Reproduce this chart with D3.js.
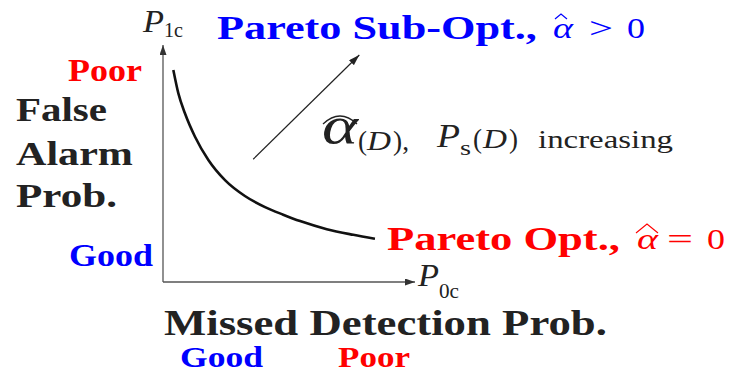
<!DOCTYPE html>
<html><head><meta charset="utf-8">
<script src="https://cdn.jsdelivr.net/npm/d3@7"></script>
</head><body>
<script>
// Pareto frontier curve (axis units 0..100)
const frontX = [4.1, 6.1, 8.7, 12.7, 18.0, 24.6, 32.5, 40.5, 47.7, 54.4, 65.0, 75.5, 84.1];
const frontY = [89.5, 79.6, 71.2, 61.3, 51.5, 43.0, 36.3, 31.6, 28.4, 25.7, 22.3, 19.9, 18.2];
// direction arrow (start, end)
const arrowX = [35.8, 77.9];
const arrowY = [51.8, 95.8];
const axisDomain = [0, 100];

const W = 733, H = 374;
const blue = "#0000ff", red = "#ff0000", ink = "#222";
const FONT = '"Liberation Serif"';
d3.select("body").style("margin", "0px").style("background", "#fff");
const svg = d3.select("body").append("svg").attr("width", W).attr("height", H)
  .style("display", "block").style("font-family", FONT);
svg.append("rect").attr("width", W).attr("height", H).attr("fill", "#fff");

const x = d3.scaleLinear().domain(axisDomain).range([163, 415]);
const y = d3.scaleLinear().domain(axisDomain).range([282, 45]);

const defs = svg.append("defs");
function marker(id, color, len, wid) {
  defs.append("marker").attr("id", id).attr("viewBox", `0 0 ${len} ${wid}`)
    .attr("refX", len).attr("refY", wid / 2).attr("markerWidth", len).attr("markerHeight", wid)
    .attr("markerUnits", "userSpaceOnUse").attr("orient", "auto")
    .append("path").attr("d", `M0,0L${len},${wid/2}L0,${wid}Z`).attr("fill", color);
}
marker("ax", "#333", 10, 7);
marker("ar", "#222", 11, 7);

// axes
svg.append("line").attr("x1", x(0)).attr("y1", y(0)).attr("x2", x(0)).attr("y2", y(100))
  .attr("stroke", "#555").attr("stroke-width", 1.3).attr("marker-end", "url(#ax)");
svg.append("line").attr("x1", x(0)).attr("y1", y(0)).attr("x2", x(100)).attr("y2", y(0))
  .attr("stroke", "#555").attr("stroke-width", 1.3).attr("marker-end", "url(#ax)");

// frontier
const pts = frontX.map((v, i) => [v, frontY[i]]);
svg.append("path").datum(pts)
  .attr("d", d3.line().x(d => x(d[0])).y(d => y(d[1])).curve(d3.curveMonotoneX))
  .attr("fill", "none").attr("stroke", "#111").attr("stroke-width", 2.6);

// direction arrow
svg.append("line").attr("x1", x(arrowX[0])).attr("y1", y(arrowY[0]))
  .attr("x2", x(arrowX[1])).attr("y2", y(arrowY[1]))
  .attr("stroke", "#222").attr("stroke-width", 1.2).attr("marker-end", "url(#ar)");

function t(str, px, py, o) {
  o = o || {};
  const el = svg.append("text").attr("x", 0).attr("y", 0)
    .attr("font-size", o.size || 30)
    .attr("font-weight", o.bold ? "bold" : null)
    .attr("font-style", o.italic ? "italic" : null)
    .style("font-family", FONT)
    .attr("fill", o.color || ink)
    .attr("transform", `translate(${px},${py})`)
    .text(str);
  if (o.len) {
    const w = el.node().getComputedTextLength();
    if (w > 0) el.attr("transform", `translate(${px},${py}) scale(${o.len / w},1)`);
  }
  return el;
}
function hat(x0, x1, yb, h, color, w) {
  svg.append("path").attr("d", `M${x0},${yb} L${(x0 + x1) / 2},${yb - h} L${x1},${yb}`)
    .attr("fill", "none").attr("stroke", color).attr("stroke-width", w || 1.1);
}

// axis labels
t("P", 143, 32, {italic: true, size: 31, len: 21});
t("1c", 164, 37, {size: 20, len: 19});
t("P", 418, 286, {italic: true, size: 31, len: 21});
t("0c", 439, 298, {size: 20, len: 20});

// top sub-optimal label
t("Pareto Sub-Opt.,", 217, 39, {bold: true, color: blue, size: 33, len: 320});
t("α", 553, 38, {italic: true, color: blue, size: 30, len: 20});
hat(555, 567, 19, 5, blue, 1.2);
t(">", 589, 38, {color: blue, size: 30, len: 24});
t("0", 627, 38, {color: blue, size: 30, len: 18});

// left labels
t("Poor", 68, 81, {bold: true, color: red, size: 31, len: 74});
t("False", 16, 121, {bold: true, size: 33, len: 91});
t("Alarm", 16, 165, {bold: true, size: 33, len: 117});
t("Prob.", 16, 207, {bold: true, size: 33, len: 101});
t("Good", 69, 266, {bold: true, color: blue, size: 31, len: 84});

// bottom labels
t("Missed Detection Prob.", 164, 335, {bold: true, size: 36, len: 443});
t("Good", 180, 367, {bold: true, color: blue, size: 30, len: 83});
t("Poor", 338, 367, {bold: true, color: red, size: 30, len: 72});

// pareto optimal label
t("Pareto Opt.,", 387, 250, {bold: true, color: red, size: 33, len: 233});
t("α", 637, 249, {italic: true, color: red, size: 30, len: 21});
hat(636, 658, 233, 9, red, 1.1);
t("=", 667, 249, {color: red, size: 30, len: 26});
t("0", 707, 249, {color: red, size: 30, len: 18});

// increasing annotation
t("α", 322, 143, {italic: true, size: 52, len: 36});
svg.append("path").attr("d", "M323,124 Q340,108 357,124").attr("fill", "none")
  .attr("stroke", "#222").attr("stroke-width", 1.3);
t("(", 358, 150, {size: 27, len: 9});
t("D", 367, 150, {italic: true, size: 27, len: 24});
t("),", 393, 150, {size: 27, len: 16});
t("P", 437, 147, {italic: true, size: 34, len: 23});
t("s", 460, 155, {size: 21, len: 11});
t("(", 473, 148, {size: 27, len: 9});
t("D", 483, 148, {italic: true, size: 27, len: 24});
t(")", 509, 148, {size: 27, len: 9});
t("increasing", 538, 148, {size: 25, len: 135});
</script>
</body></html>
